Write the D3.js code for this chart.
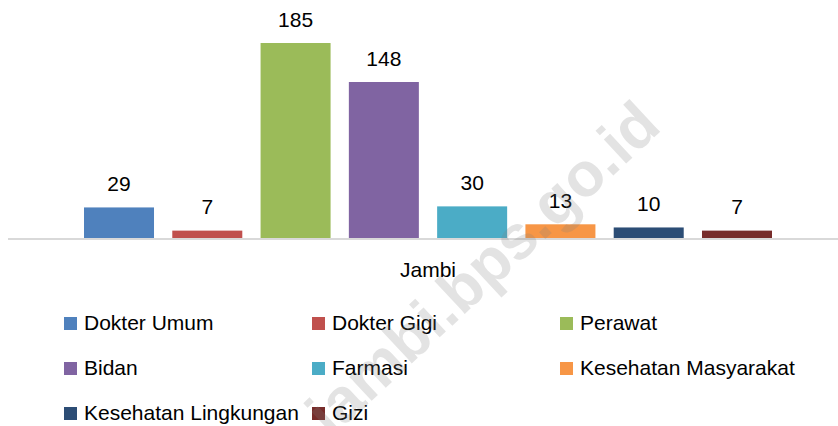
<!DOCTYPE html>
<html>
<head>
<meta charset="utf-8">
<script src="https://cdn.jsdelivr.net/npm/d3@7"></script>
<style>
  html, body { margin: 0; padding: 0; background: #fff; }
  text { font-family: "Liberation Sans", Arial, sans-serif; fill: #000; }
</style>
</head>
<body>
<svg id="chart" width="838" height="426"></svg>
<script>
const category = 'Jambi';
const series = ['Dokter Umum', 'Dokter Gigi', 'Perawat', 'Bidan', 'Farmasi',
    'Kesehatan Masyarakat', 'Kesehatan Lingkungan', 'Gizi'];
const values = [29, 7, 185, 148, 30, 13, 10, 7];
const colors = ['#4F81BD', '#C0504D', '#9BBB59', '#8064A2', '#4BACC6',
    '#F79646', '#2C4D75', '#772C2A'];

const data = series.map((s, i) => ({name: s, value: values[i], color: colors[i]}));

const width = 838;
const baseY = 238;

const svg = d3.select('#chart');

const xScale = d3.scaleBand()
    .domain(series)
    .range([84, 772])
    .paddingInner(0.207)
    .paddingOuter(0);

const yScale = d3.scaleLinear()
    .domain([0, 200])
    .range([baseY, baseY - 210.8]);

// bars
svg.append('g')
    .selectAll('rect')
    .data(data)
    .join('rect')
    .attr('x', d => xScale(d.name))
    .attr('y', d => yScale(d.value))
    .attr('width', xScale.bandwidth())
    .attr('height', d => yScale(0) - yScale(d.value))
    .attr('fill', d => d.color);

// category axis line
svg.append('line')
    .attr('x1', 8)
    .attr('x2', width)
    .attr('y1', baseY + 1)
    .attr('y2', baseY + 1)
    .attr('stroke', '#d9d9d9')
    .attr('stroke-width', 2);

// value labels
svg.append('g')
    .selectAll('text')
    .data(data)
    .join('text')
    .attr('x', d => xScale(d.name) + xScale.bandwidth() / 2)
    .attr('y', d => yScale(d.value) - 16.5)
    .attr('text-anchor', 'middle')
    .style('font-size', '21px')
    .text(d => d.value);

// category label
svg.append('text')
    .attr('x', (xScale.range()[0] + xScale.range()[1]) / 2)
    .attr('y', 277)
    .attr('text-anchor', 'middle')
    .style('font-size', '21px')
    .text(category);

// legend
const legend = svg.append('g')
    .selectAll('g')
    .data(data)
    .join('g')
    .attr('transform', (d, i) => `translate(${64 + (i % 3) * 248}, ${330 + Math.floor(i / 3) * 45})`);

legend.append('rect')
    .attr('x', 0)
    .attr('y', -13)
    .attr('width', 13)
    .attr('height', 13)
    .attr('fill', d => d.color);

legend.append('text')
    .attr('x', 20)
    .attr('y', 0)
    .style('font-size', '21px')
    .text(d => d.name);

// watermark
svg.append('text')
    .attr('transform', 'translate(497, 284) rotate(-43)')
    .attr('text-anchor', 'middle')
    .style('font-size', '62px')
    .style('font-weight', 'bold')
    .style('fill', 'rgba(128,128,128,0.22)')
    .text('jambi.bps.go.id');
</script>
</body>
</html>
